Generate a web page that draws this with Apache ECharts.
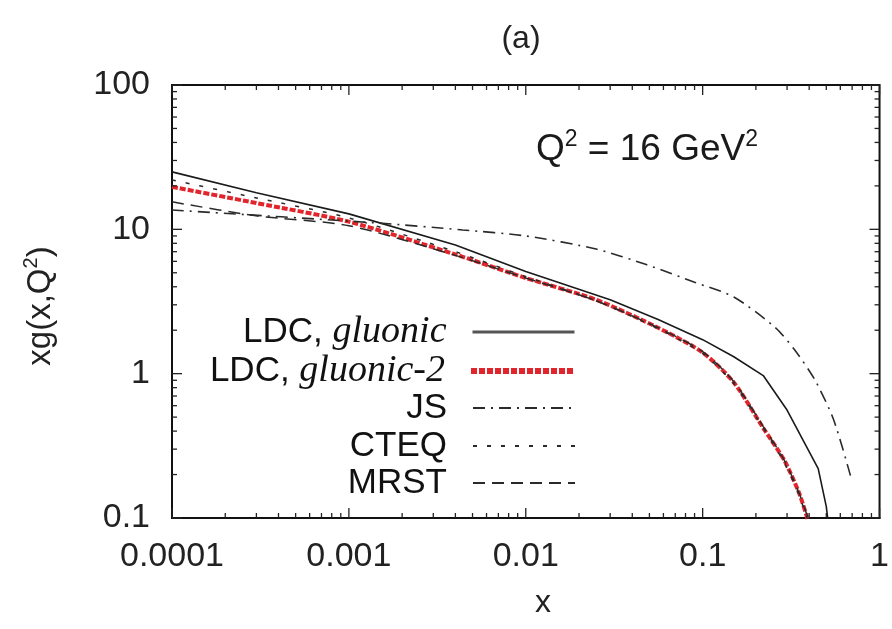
<!DOCTYPE html>
<html><head><meta charset="utf-8">
<script src="https://cdn.jsdelivr.net/npm/echarts@6/dist/echarts.min.js"></script>
<style>html,body{margin:0;padding:0;background:#fff}#c{width:892px;height:629px}</style>
</head><body><div id="c"></div>
<script>
// ---- data ----
const seriesNames = ['LDC, gluonic', 'LDC, gluonic-2', 'JS', 'CTEQ', 'MRST'];

const ldcX  = [1e-4, 3e-4, 1e-3, 4e-3, 1e-2, 3e-2, 5.6e-2, 0.1, 0.15, 0.22, 0.3, 0.45, 0.5, 0.52];
const ldcY  = [25, 17.9, 12.8, 7.8, 5.1, 3.25, 2.37, 1.72, 1.31, 0.97, 0.56, 0.22, 0.12, 0.08];

const ldc2X = [1e-4, 3e-4, 1e-3, 4e-3, 1e-2, 2.5e-2, 5.6e-2, 0.1, 0.15, 0.22, 0.29, 0.35, 0.39, 0.42];
const ldc2Y = [19.7, 15.2, 11.3, 6.7, 4.6, 3.25, 2.08, 1.40, 0.87, 0.42, 0.25, 0.15, 0.1, 0.07];

const jsX   = [1e-4, 1.4e-3, 4.4e-3, 1e-2, 2.5e-2, 4.8e-2, 9e-2, 0.15, 0.256, 0.33, 0.43, 0.55, 0.69];
const jsY   = [13.6, 11.1, 9.9, 9.0, 7.3, 5.7, 4.3, 3.4, 2.1, 1.47, 0.91, 0.48, 0.19];

const cteqX = [1e-4, 3e-4, 1e-3, 4e-3, 1e-2, 2.5e-2, 5.6e-2, 0.1, 0.15, 0.22, 0.29, 0.35, 0.4];
const cteqY = [22, 16.5, 12.0, 7.0, 4.7, 3.2, 2.05, 1.38, 0.85, 0.42, 0.24, 0.145, 0.09];

const mrstX = [1e-4, 3e-4, 1e-3, 4e-3, 1e-2, 2.5e-2, 5.6e-2, 0.1, 0.15, 0.22, 0.29, 0.35, 0.4];
const mrstY = [15.5, 12.4, 10.6, 6.6, 4.6, 3.2, 2.08, 1.42, 0.88, 0.43, 0.25, 0.15, 0.095];

const xTickLabels = ['0.0001', '0.001', '0.01', '0.1', '1'];
const yTickLabels = ['0.1', '1', '10', '100'];

// ---- build ----
const pairs = (xs, ys) => xs.map((x, i) => [x, ys[i]]);
const nearestLabel = (labels) => (v) => {
  let best = labels[0], bd = Infinity;
  labels.forEach(l => { const d = Math.abs(Math.log10(+l) - Math.log10(v)); if (d < bd) { bd = d; best = l; } });
  return bd < 0.01 ? best : '';
};

const xMin = +xTickLabels[0], xMax = +xTickLabels[xTickLabels.length - 1];
const yMin = +yTickLabels[0], yMax = +yTickLabels[yTickLabels.length - 1];

// log tick positions (1..9 per decade) for the frame ticks
const xTicks = [], yTicks = [];
for (let e = Math.round(Math.log10(xMin)); e <= Math.round(Math.log10(xMax)); e++)
  for (let d = 1; d <= 9; d++) { const v = d * Math.pow(10, e); if (v > xMax * 1.0001) break; xTicks.push([v, 1, d === 1 ? 1 : 0]); }
for (let e = Math.round(Math.log10(yMin)); e <= Math.round(Math.log10(yMax)); e++)
  for (let d = 1; d <= 9; d++) { const v = d * Math.pow(10, e); if (v > yMax * 1.0001) break; yTicks.push([0.001, v, d === 1 ? 1 : 0]); }

const tickStyle = { stroke: '#222', lineWidth: 1.3 };

const lineStyles = {
  'LDC, gluonic':   { color: '#1a1a1a', width: 1.6, type: 'solid' },
  'LDC, gluonic-2': { color: '#e0262c', width: 4, type: [6, 2] },
  'JS':             { color: '#2a2a2a', width: 1.6, type: [12, 6, 2, 6] },
  'CTEQ':           { color: '#2a2a2a', width: 1.5, type: [4, 10] },
  'MRST':           { color: '#2a2a2a', width: 1.5, type: [12, 7] }
};
const seriesData = {
  'LDC, gluonic': pairs(ldcX, ldcY),
  'LDC, gluonic-2': pairs(ldc2X, ldc2Y),
  'JS': pairs(jsX, jsY),
  'CTEQ': pairs(cteqX, cteqY),
  'MRST': pairs(mrstX, mrstY)
};
const drawOrder = ['LDC, gluonic-2', 'CTEQ', 'MRST', 'LDC, gluonic', 'JS'];

const lineSeries = drawOrder.map(n => ({
  name: n, type: 'line', data: seriesData[n], symbol: 'none', showSymbol: false,
  smooth: n === 'LDC, gluonic' ? false : 0.25,
  lineStyle: lineStyles[n], itemStyle: { color: lineStyles[n].color },
  clip: true, silent: true
}));

const legendCenters = [332, 371, 408, 446, 483];
const legendLine = {
  'LDC, gluonic': { width: 3, color: '#555' },
  'LDC, gluonic-2': { width: 6 }
};
const legendFmt = (name) => name.startsWith('LDC, ')
  ? '{s|LDC, }{i|' + name.slice(5) + '}'
  : '{s|' + name + '}';
const legends = seriesNames.map((n, i) => ({
  data: [n], orient: 'vertical', align: 'right', right: 892 - 576, top: legendCenters[i] - 20,
  padding: 0, itemWidth: 102, itemHeight: 12, selectedMode: false,
  itemStyle: { opacity: 0 },
  lineStyle: legendLine[n] || {},
  formatter: legendFmt,
  textStyle: {
    padding: [0, 21, 0, 0], lineHeight: 40,
    rich: {
      s: { fontFamily: 'Liberation Sans', fontSize: 35, color: '#111', lineHeight: 40 },
      i: { fontFamily: 'Liberation Serif', fontStyle: 'italic', fontSize: 38, color: '#111', lineHeight: 40 }
    }
  }
}));

const chart = echarts.init(document.getElementById('c'), null, { renderer: 'canvas' });
chart.setOption({
  animation: false,
  backgroundColor: '#fff',
  grid: { left: 172, right: 6, top: 85, bottom: 111, show: true, borderColor: '#111', borderWidth: 2, containLabel: false },
  xAxis: {
    type: 'log', logBase: 10, min: xMin, max: xMax,
    axisLine: { show: true, lineStyle: { color: '#111', width: 2 } },
    axisTick: { show: false }, splitLine: { show: false }, minorTick: { show: false },
    axisLabel: {
      margin: 22, fontFamily: 'Liberation Sans', fontSize: 34, color: '#222',
      formatter: nearestLabel(xTickLabels), showMinLabel: true, showMaxLabel: true
    }
  },
  yAxis: {
    type: 'log', logBase: 10, min: yMin, max: yMax,
    axisLine: { show: true, lineStyle: { color: '#111', width: 2 } },
    axisTick: { show: false }, splitLine: { show: false }, minorTick: { show: false },
    axisLabel: {
      margin: 22, fontFamily: 'Liberation Sans', fontSize: 34, color: '#222',
      formatter: nearestLabel(yTickLabels), showMinLabel: true, showMaxLabel: true
    }
  },
  legend: legends,
  series: [
    {
      type: 'custom', silent: true, clip: false, data: xTicks, encode: { x: 0, y: 1 }, z: 5,
      renderItem: (params, api) => {
        const v = api.value(0), major = api.value(2);
        const b = api.coord([v, yMin]), t = api.coord([v, yMax]);
        const L = major ? 10 : 5;
        return { type: 'group', children: [
          { type: 'line', shape: { x1: b[0], y1: b[1], x2: b[0], y2: b[1] - L }, style: tickStyle },
          { type: 'line', shape: { x1: t[0], y1: t[1], x2: t[0], y2: t[1] + L }, style: tickStyle }
        ]};
      }
    },
    {
      type: 'custom', silent: true, clip: false, data: yTicks, encode: { x: 0, y: 1 }, z: 5,
      renderItem: (params, api) => {
        const v = api.value(1), major = api.value(2);
        const l = api.coord([xMin, v]), r = api.coord([xMax, v]);
        const L = major ? 10 : 5;
        return { type: 'group', children: [
          { type: 'line', shape: { x1: l[0], y1: l[1], x2: l[0] + L, y2: l[1] }, style: tickStyle },
          { type: 'line', shape: { x1: r[0], y1: r[1], x2: r[0] - L, y2: r[1] }, style: tickStyle }
        ]};
      }
    }
  ].concat(lineSeries),
  graphic: [
    { type: 'text', x: 521, y: 39, silent: true,
      style: { text: '(a)', font: '32px "Liberation Sans"', fill: '#222', textAlign: 'center', textVerticalAlign: 'middle' } },
    { type: 'text', x: 543, y: 603, silent: true,
      style: { text: 'x', font: '32px "Liberation Sans"', fill: '#222', textAlign: 'center', textVerticalAlign: 'middle' } },
    { type: 'text', x: 647, y: 150, silent: true,
      style: {
        text: '{a|Q}{s|2}{a| = 16 GeV}{s|2}', textAlign: 'center', textVerticalAlign: 'middle',
        rich: {
          a: { fontFamily: 'Liberation Sans', fontSize: 37, fill: '#1a1a1a', lineHeight: 44 },
          s: { fontFamily: 'Liberation Sans', fontSize: 23, fill: '#1a1a1a', verticalAlign: 'top', lineHeight: 26 }
        }
      } },
    { type: 'text', x: 41, y: 306, rotation: Math.PI / 2, silent: true,
      style: {
        text: '{a|xg(x,Q}{s|2}{a|)}', textAlign: 'center', textVerticalAlign: 'middle',
        rich: {
          a: { fontFamily: 'Liberation Sans', fontSize: 33, fill: '#222', lineHeight: 40 },
          s: { fontFamily: 'Liberation Sans', fontSize: 20, fill: '#222', verticalAlign: 'top', lineHeight: 24 }
        }
      } }
  ]
});
</script>
</body></html>
